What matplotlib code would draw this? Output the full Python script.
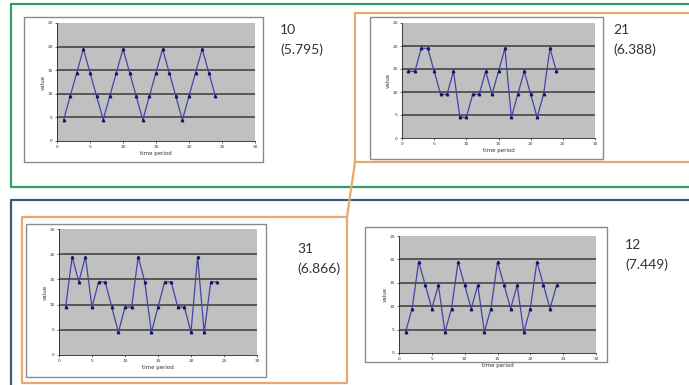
import matplotlib
matplotlib.use("Agg")
import matplotlib.pyplot as plt
from matplotlib.patches import Rectangle
from matplotlib.lines import Line2D

W, H = 689, 385

time_period = list(range(1, 25))
series_10 = [4.5, 9.5, 14.5, 19.5, 14.5, 9.5, 4.5, 9.5, 14.5, 19.5, 14.5, 9.5,
             4.5, 9.5, 14.5, 19.5, 14.5, 9.5, 4.5, 9.5, 14.5, 19.5, 14.5, 9.5]
series_21 = [14.5, 14.5, 19.5, 19.5, 14.5, 9.5, 9.5, 14.5, 4.5, 4.5, 9.5, 9.5,
             14.5, 9.5, 14.5, 19.5, 4.5, 9.5, 14.5, 9.5, 4.5, 9.5, 19.5, 14.5]
series_31 = [9.5, 19.5, 14.5, 19.5, 9.5, 14.5, 14.5, 9.5, 4.5, 9.5, 9.5, 19.5,
             14.5, 4.5, 9.5, 14.5, 14.5, 9.5, 9.5, 4.5, 19.5, 4.5, 14.5, 14.5]
series_12 = [4.5, 9.5, 19.5, 14.5, 9.5, 14.5, 4.5, 9.5, 19.5, 14.5, 9.5, 14.5,
             4.5, 9.5, 19.5, 14.5, 9.5, 14.5, 4.5, 9.5, 19.5, 14.5, 9.5, 14.5]
labels_top = ["10", "21", "31", "12"]
labels_sub = ["(5.795)", "(6.388)", "(6.866)", "(7.449)"]
x_ticks = [0, 5, 10, 15, 20, 25, 30]
y_ticks = [0, 5, 10, 15, 20, 25]

fig = plt.figure(figsize=(W / 100, H / 100), dpi=100)
fig.patch.set_facecolor("white")


def fx(x):
    return x / W


def fy(y):
    return 1 - y / H


def frect(x0, y0, x1, y1, **kw):
    r = Rectangle((fx(x0), fy(y1)), fx(x1) - fx(x0), fy(y0) - fy(y1),
                  transform=fig.transFigure, **kw)
    fig.add_artist(r)


def fline(xs, ys, **kw):
    fig.add_artist(Line2D([fx(v) for v in xs], [fy(v) for v in ys],
                          transform=fig.transFigure, **kw))


green = "#2f9e63"
blue = "#3e5a76"
orange = "#e8a870"

# outer frames
fline([700, 11, 11, 700], [4, 4, 187, 187], color=green, lw=1.6, zorder=-2)
fline([700, 11, 11], [200, 200, 400], color=blue, lw=1.6, zorder=-2)
fline([700, 355, 355, 347, 347, 22, 22, 347],
      [13, 13, 162, 217, 383, 383, 217, 217], color=orange, lw=1.6, zorder=-2)
fline([355, 700], [162, 162], color=orange, lw=1.6, zorder=-2)

panels = [
    # border box, plot box, series, text pos
    ((24, 17, 263, 162), (57, 23, 255, 141), series_10, (280, 30)),
    ((370, 17, 603, 159), (402, 23, 595, 138), series_21, (613, 30)),
    ((26, 224, 266, 377), (59, 229, 257, 355), series_31, (297, 249)),
    ((365, 227, 607, 362), (399, 236, 596, 353), series_12, (625, 245)),
]

for i, (border, plot, vals, tpos) in enumerate(panels):
    frect(border[0], border[1], border[2], border[3], facecolor="white",
          edgecolor="#8a8a8a", lw=1.0, zorder=-1)
    x0, y0, x1, y1 = plot
    ax = fig.add_axes([fx(x0), fy(y1), fx(x1) - fx(x0), fy(y0) - fy(y1)])
    ax.set_zorder(2)
    ax.set_facecolor("#c0c0c0")
    ax.set_xlim(0, 30)
    ax.set_ylim(0, 25)
    ax.set_xticks(x_ticks)
    ax.set_yticks(y_ticks)
    ax.tick_params(labelsize=3.2, length=1.5, width=0.5, pad=1.5, colors="#333333")
    for g in y_ticks[1:-1]:
        ax.axhline(g, color="#3a3a3a", lw=1.1, zorder=1)
    for s in ["top", "right"]:
        ax.spines[s].set_visible(False)
    for s in ["left", "bottom"]:
        ax.spines[s].set_linewidth(0.6)
        ax.spines[s].set_color("#222222")
    ax.plot(time_period, vals, color="#4444a8", lw=0.9, marker="^",
            markersize=1.8, markerfacecolor="#151560", markeredgecolor="#151560",
            zorder=3)
    ax.set_xlabel("time period", fontsize=4, labelpad=1, color="#333333")
    ax.set_ylabel("value", fontsize=4, labelpad=1, color="#333333")
    fig.text(fx(tpos[0]), fy(tpos[1]), labels_top[i], fontsize=10,
             family="Lato", color="#333333", va="center", ha="left", zorder=3)
    fig.text(fx(tpos[0]), fy(tpos[1] + 20), labels_sub[i], fontsize=10,
             family="Lato", color="#333333", va="center", ha="left", zorder=3)

fig.savefig("out.png", dpi=100)
